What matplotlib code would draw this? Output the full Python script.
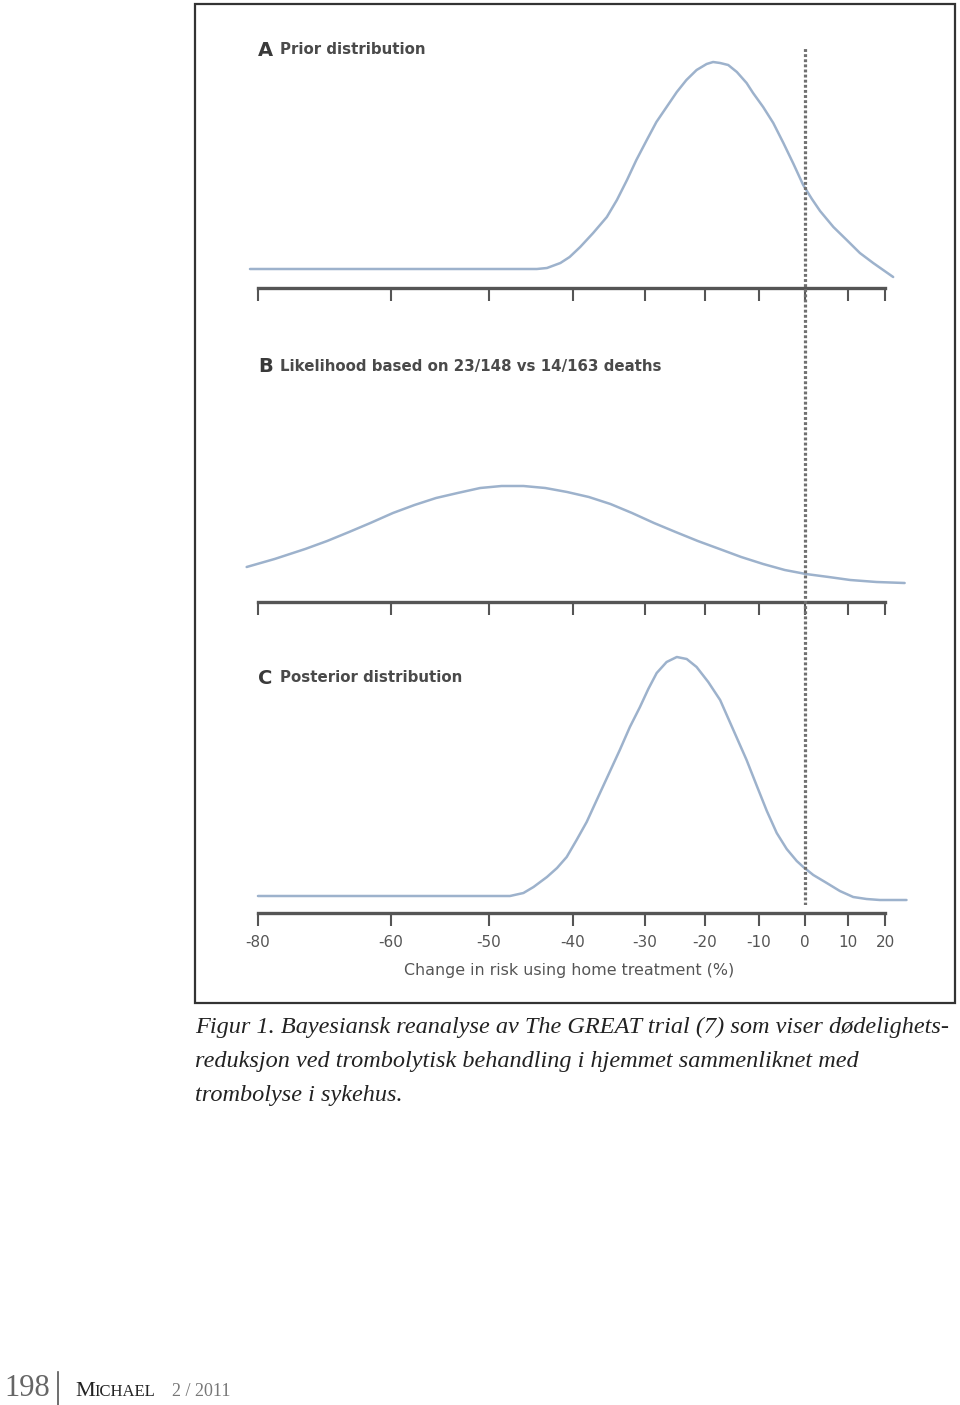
import numpy as np
import matplotlib
matplotlib.use("Agg")
import matplotlib.pyplot as plt
from matplotlib.patches import Rectangle
from matplotlib.lines import Line2D

# tick values of the (non linear) risk axis and where they sit along it
tick_vals = [-80, -60, -50, -40, -30, -20, -10, 0, 10, 20]
tick_labels = ["-80", "-60", "-50", "-40", "-30", "-20", "-10", "0", "10", "20"]
scale_anchor = [258, 391, 489, 573, 645, 705, 759, 805, 848, 885]

# A - prior distribution (change in risk %, density)
prior_x = [-81.2, -80, -60, -50, -44.3, -43.1, -41.5, -40.4, -39.0, -37.2, -35.3, -33.9,
           -32.5, -31.2, -29.7, -28.1, -26.4, -24.7, -23.1, -21.4, -19.7, -18.5, -17.2,
           -15.7, -14.1, -12.3, -11.1, -9.1, -6.9, -4.7, -2.5, -0.4, 1.6, 3.5, 6.6, 9.7,
           13.2, 16.8, 19.5, 22.2]
prior_y = [0.19, 0.19, 0.19, 0.19, 0.19, 0.20, 0.25, 0.31, 0.41, 0.55, 0.71, 0.88,
           1.08, 1.28, 1.48, 1.66, 1.81, 1.96, 2.08, 2.18, 2.24, 2.26, 2.25,
           2.23, 2.16, 2.05, 1.95, 1.81, 1.65, 1.45, 1.24, 1.03, 0.89, 0.77, 0.61, 0.48,
           0.35, 0.25, 0.18, 0.11]

# B - likelihood
lik_x = [-81.7, -77.5, -72.9, -69.6, -66.3, -63.1, -59.8, -57.6, -55.4, -53.2, -50.9,
         -48.5, -45.9, -43.3, -40.7, -37.8, -34.8, -31.8, -28.5, -24.9, -21.2, -17.3,
         -13.3, -9.1, -4.4, 0.2, 5.5, 10.6, 17.7, 25.3]
lik_y = [0.35, 0.43, 0.53, 0.61, 0.70, 0.79, 0.89, 0.97, 1.04, 1.09, 1.14,
         1.16, 1.16, 1.14, 1.10, 1.05, 0.98, 0.89, 0.79, 0.70, 0.61, 0.53,
         0.45, 0.38, 0.32, 0.28, 0.25, 0.22, 0.20, 0.19]

# C - posterior distribution
post_x = [-80, -60, -50, -47.5, -45.9, -44.7, -43.1, -41.9, -40.75, -39.5, -38.1, -36.7,
          -35.1, -33.5, -32.1, -30.7, -29.45, -28.05, -26.4, -24.7, -23.05, -21.4, -19.4,
          -17.2, -14.75, -12.3, -10.4, -8.3, -6.15, -3.98, -1.8, -0.37, 1.93, 5.05, 8.1,
          11.4, 15.0, 18.6, 25.8]
post_y = [0.17, 0.17, 0.17, 0.17, 0.20, 0.26, 0.36, 0.45, 0.56, 0.73, 0.91, 1.13,
          1.38, 1.63, 1.86, 2.06, 2.24, 2.40, 2.51, 2.56, 2.54, 2.46, 2.31,
          2.13, 1.83, 1.53, 1.27, 1.02, 0.80, 0.64, 0.52, 0.46, 0.38, 0.30, 0.22,
          0.16, 0.14, 0.13, 0.13]

titles = [("A", "Prior distribution"),
          ("B", "Likelihood based on 23/148 vs 14/163 deaths"),
          ("C", "Posterior distribution")]
xlabel = "Change in risk using home treatment (%)"
caption = ["Figur 1. Bayesiansk reanalyse av The GREAT trial (7) som viser dødelighets-",
           "reduksjon ved trombolytisk behandling i hjemmet sammenliknet med",
           "trombolyse i sykehus."]

tv = np.array(tick_vals, float)
tp = np.array(scale_anchor, float)


def pw(v, a, b):
    v = np.asarray(v, float)
    out = np.interp(v, a, b)
    s0 = (b[1] - b[0]) / (a[1] - a[0])
    s1 = (b[-1] - b[-2]) / (a[-1] - a[-2])
    out = np.where(v < a[0], b[0] + (v - a[0]) * s0, out)
    out = np.where(v > a[-1], b[-1] + (v - a[-1]) * s1, out)
    return out


def fwd(v):
    return pw(v, tv, tp)


def inv(p):
    return pw(p, tp, tv)


W, H = 960, 1405
fig = plt.figure(figsize=(9.6, 14.05), dpi=100)


def fy(px):
    return 1 - px / H


curve_col = "#9db2cc"
axis_col = "#555555"
narrow = ["Liberation Sans Narrow", "DejaVu Sans"]

x0, x1 = 240, 915
panels = [(prior_x, prior_y, 288), (lik_x, lik_y, 602), (post_x, post_y, 913)]
title_y = [50, 366, 678]

for i, (xs, ys, base) in enumerate(panels):
    ax = fig.add_axes([x0 / W, fy(base), (x1 - x0) / W, 260 / H])
    ax.set_xscale("function", functions=(fwd, inv))
    ax.set_xlim(-82.7, 28.1)
    ax.set_ylim(0, 2.6)
    ax.patch.set_alpha(0)
    ax.plot(xs, ys, color=curve_col, lw=1.8, solid_capstyle="round",
            solid_joinstyle="round", clip_on=False)
    for s in ["top", "left", "right"]:
        ax.spines[s].set_visible(False)
    ax.spines["bottom"].set_bounds(-80, 20)
    ax.spines["bottom"].set_color(axis_col)
    ax.spines["bottom"].set_linewidth(2.4)
    ax.set_yticks([])
    ax.set_xticks(tick_vals)
    ax.tick_params(axis="x", direction="out", length=9.5, width=1.5, color=axis_col, pad=6)
    if i == 2:
        ax.set_xticklabels(tick_labels, fontsize=11, color="#555555", family=narrow)
    else:
        ax.set_xticklabels([])
    ty = fy(title_y[i])
    fig.text(258 / W, ty, titles[i][0], fontsize=14, fontweight="bold", color="#3a3a3a",
             family=narrow, va="center", ha="left")
    fig.text(280 / W, ty, titles[i][1], fontsize=10.8, fontweight="bold", color="#4a4a4a",
             family=narrow, va="center", ha="left")

fig.text(569 / W, fy(970), xlabel, fontsize=11.4, color="#555555", family=narrow,
         ha="center", va="center")

# dotted line at no change, through all three panels
ov = fig.add_axes([x0 / W, fy(905), (x1 - x0) / W, (905 - 48) / H])
ov.set_xscale("function", functions=(fwd, inv))
ov.set_xlim(-82.7, 28.1)
ov.axvline(0, color="#707070", lw=2.3, linestyle=(0, (0.9, 0.7)))
ov.axis("off")

# frame
fig.patches.append(Rectangle((195 / W, fy(1003)), (955 - 195) / W, (1003 - 4) / H,
                             transform=fig.transFigure, fill=False,
                             edgecolor="#333333", lw=1.6))

# caption
for k, line in enumerate(caption):
    fig.text(195 / W, fy(1027 + k * 34), line, fontsize=17.5, style="italic",
             family="Liberation Serif", color="#222222", va="center", ha="left")

# footer
fig.text(4 / W, fy(1389), "198", fontsize=22, family="Liberation Serif", color="#666666",
         va="center", ha="left")
fig.add_artist(Line2D([58 / W, 58 / W], [fy(1372), fy(1405)], transform=fig.transFigure,
                      color="#555555", lw=1.2))
fig.text(75 / W, fy(1391), "M", fontsize=16, family="Liberation Serif", color="#222222",
         va="center", ha="left")
fig.text(94 / W, fy(1392), "ICHAEL", fontsize=12, family="Liberation Serif", color="#222222",
         va="center", ha="left")
fig.text(172 / W, fy(1392), "2 / 2011", fontsize=13, family="Liberation Serif", color="#777777",
         va="center", ha="left")

fig.savefig("out.png", dpi=100)
